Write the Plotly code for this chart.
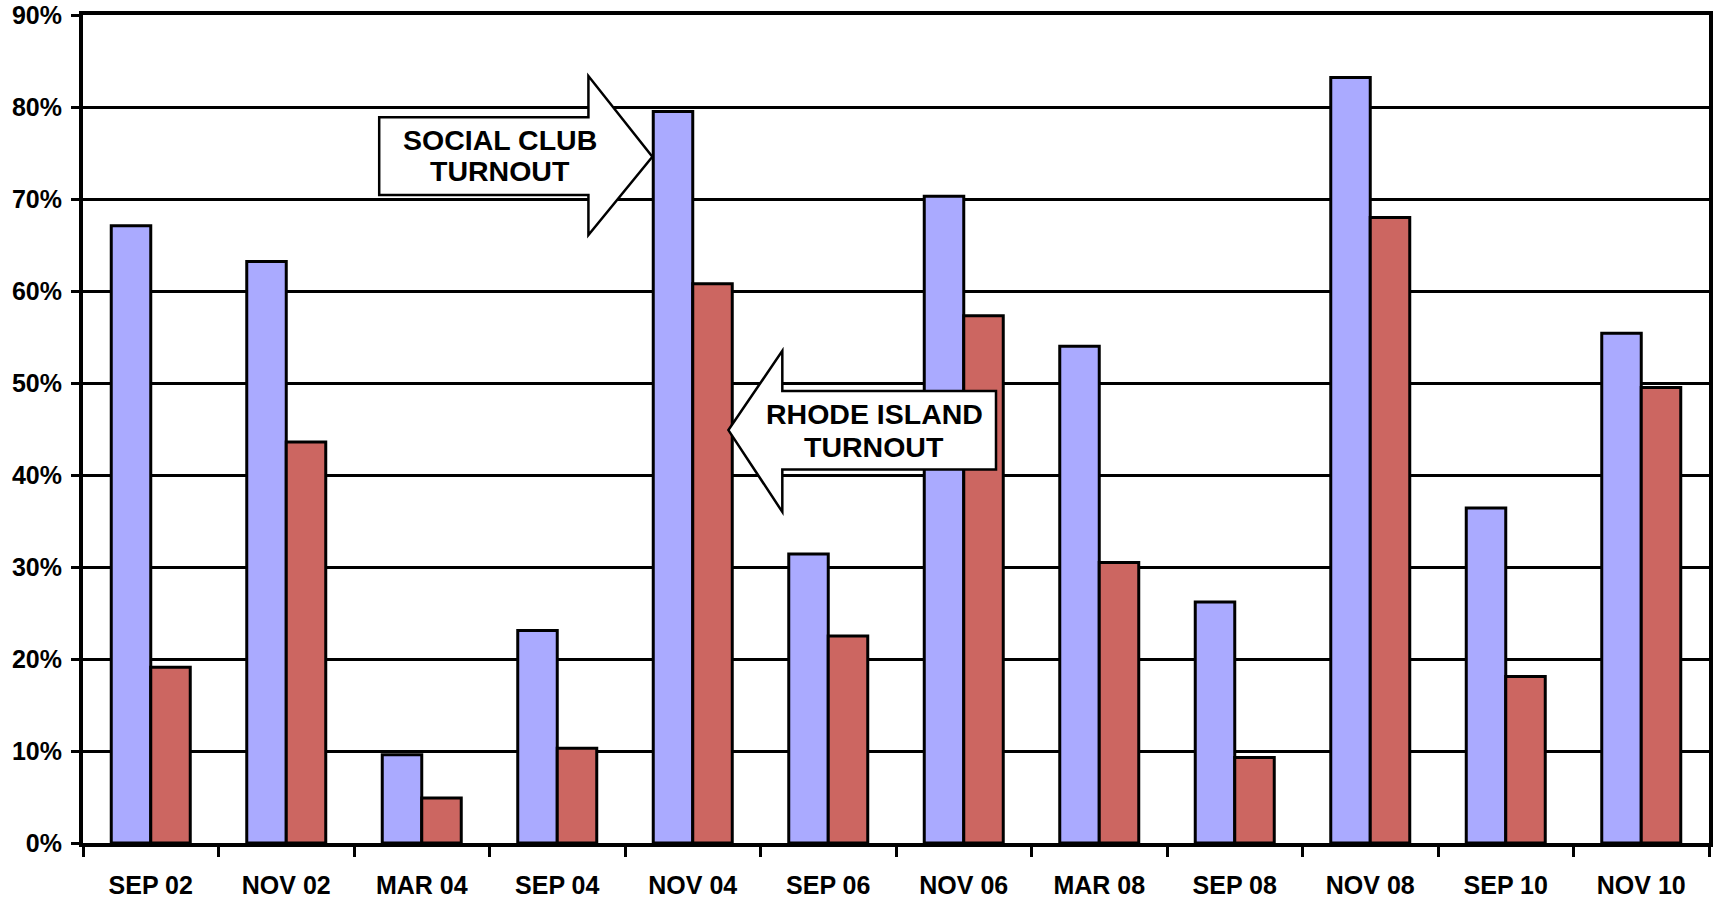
import plotly.graph_objects as go

categories = ["SEP 02", "NOV 02", "MAR 04", "SEP 04", "NOV 04", "SEP 06",
              "NOV 06", "MAR 08", "SEP 08", "NOV 08", "SEP 10", "NOV 10"]
social_club = [67.1, 63.2, 9.6, 23.1, 79.5, 31.4, 70.3, 54.0, 26.2, 83.2, 36.4, 55.4]
rhode_island = [19.1, 43.6, 4.9, 10.3, 60.8, 22.5, 57.3, 30.5, 9.3, 68.0, 18.1, 49.5]
y_ticks = [0, 10, 20, 30, 40, 50, 60, 70, 80, 90]

FONT = "Liberation Sans, Arial, sans-serif"

fig = go.Figure()
fig.add_trace(go.Bar(x=categories, y=social_club, name="Social Club",
                     marker=dict(color="#AAAAFF", line=dict(color="black", width=3))))
fig.add_trace(go.Bar(x=categories, y=rhode_island, name="Rhode Island",
                     marker=dict(color="#CC6661", line=dict(color="black", width=3))))

# callout arrows (data coordinates: category index, percent)
arrow1 = "M 1.686 78.88 L 3.230 78.88 L 3.230 83.37 L 3.702 74.59 L 3.230 66.08 L 3.230 70.43 L 1.686 70.43 Z"
arrow2 = "M 6.238 49.12 L 4.661 49.12 L 4.661 53.50 L 4.263 44.88 L 4.661 35.99 L 4.661 40.60 L 6.238 40.60 Z"
for p in (arrow1, arrow2):
    fig.add_shape(type="path", path=p, xref="x", yref="y", layer="above",
                  fillcolor="white", line=dict(color="black", width=2.5))

ann_font = dict(family=FONT, size=28.5, color="black", weight="bold")
for txt, x, y in [("SOCIAL CLUB", 2.579, 76.41), ("TURNOUT", 2.579, 73.04),
                  ("RHODE ISLAND", 5.338, 46.58), ("TURNOUT", 5.338, 43.06)]:
    fig.add_annotation(text=txt, x=x, y=y, xref="x", yref="y", showarrow=False,
                       font=ann_font, xanchor="center", yanchor="middle")

fig.update_layout(
    width=1722, height=900,
    margin=dict(l=83, r=13, t=15, b=57, autoexpand=False),
    paper_bgcolor="white", plot_bgcolor="white",
    barmode="group", bargap=0.417, bargroupgap=0,
    showlegend=False,
    font=dict(family=FONT, color="black"),
)
fig.update_xaxes(
    type="category", range=[-0.5, 11.5], automargin=False,
    showline=True, linecolor="black", linewidth=4, mirror=True,
    ticks="outside", tickson="boundaries", ticklen=10, tickwidth=3, tickcolor="black",
    showgrid=False,
    tickfont=dict(family=FONT, size=25, color="black", weight="bold"),
    ticklabelstandoff=17,
)
fig.update_yaxes(
    range=[0, 90], tickvals=y_ticks, ticktext=[f"{v}%" for v in y_ticks], automargin=False,
    showline=True, linecolor="black", linewidth=4, mirror=True,
    ticks="outside", ticklen=8, tickwidth=3, tickcolor="black",
    showgrid=True, gridcolor="black", gridwidth=3,
    zeroline=False,
    tickfont=dict(family=FONT, size=25, color="black", weight="bold"),
    ticklabelstandoff=4,
)

fig.write_html("out.html", config={"displayModeBar": False},
               post_script="document.body.style.margin='0';document.body.style.overflow='hidden';")
